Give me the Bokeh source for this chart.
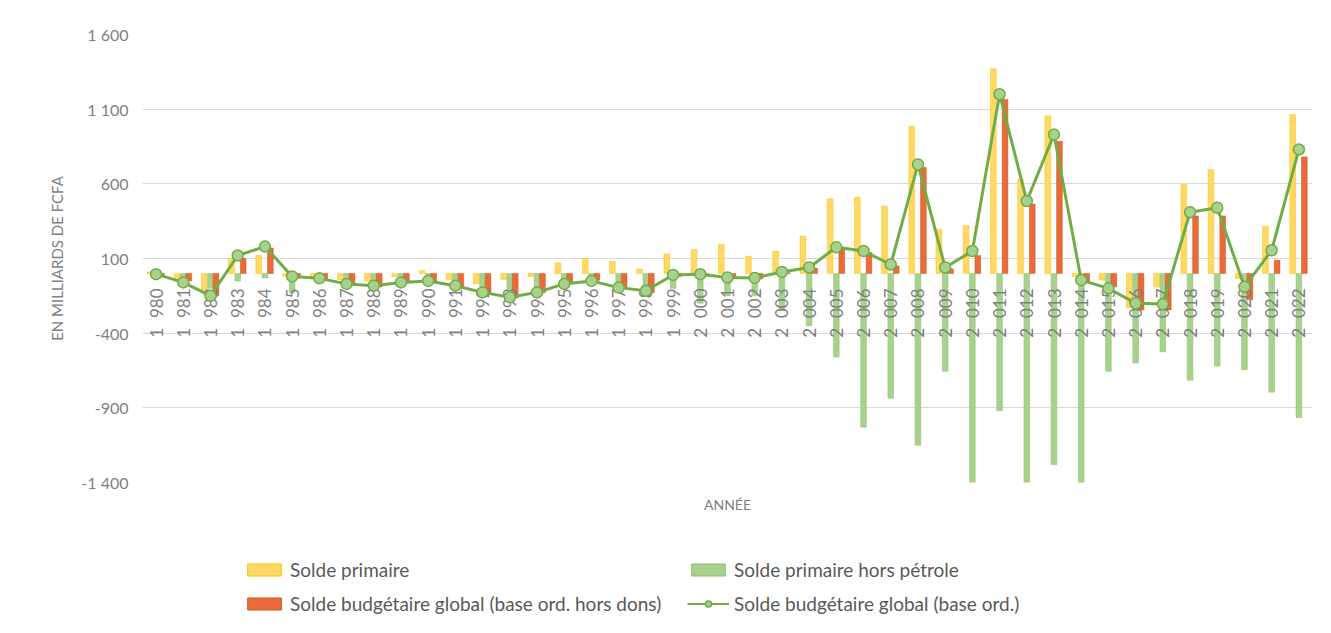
from bokeh.plotting import figure
from bokeh.models import ColumnDataSource, FixedTicker, Legend, LegendItem
from bokeh.layouts import column
from bokeh.core.properties import value
from bokeh.transform import dodge
from bokeh.embed import file_html
from bokeh.resources import INLINE
import math

years = list(range(1980, 2023))
year_labels = [f"{y // 1000}\u2007{y % 1000:03d}" for y in years]

solde_primaire = [10, -40, -110, 100, 120, -20, -20, -40, -50, -20, 20, -40, -70, -40, -20,
                  70, 100, 80, 30, 130, 160, 195, 115, 150, 250, 500, 510, 450, 985, 295,
                  320, 1370, 630, 1055, -20, -45, -230, -90, 595, 695, -35, 315, 1065]
solde_hors_petrole = [-20, -30, -100, -50, -30, -130, -40, -60, -60, -40, -30, -60, -100, -130, -130,
                      -80, -50, -90, -110, -100, -200, -150, -150, -250, -350, -560, -1030, -835, -1150, -655,
                      -1400, -920, -1400, -1280, -1400, -655, -600, -525, -715, -620, -645, -795, -965]
solde_hors_dons = [-10, -50, -150, 100, 170, -30, -35, -75, -90, -60, -50, -85, -130, -165, -130,
                   -60, -45, -100, -130, -20, -10, -30, -35, 5, 35, 165, 140, 50, 710, 30,
                   120, 1165, 465, 885, -60, -90, -245, -245, 385, 385, -175, 89, 780]
solde_global = [-5, -60, -150, 120, 180, -20, -33, -70, -82, -60, -50, -82, -127, -160, -127,
                -70, -50, -95, -116, -10, -5, -27, -30, 10, 40, 175, 150, 60, 730, 40,
                150, 1200, 485, 930, -45, -100, -200, -205, 410, 440, -90, 155, 830]

y_ticks = [1600, 1100, 600, 100, -400, -900, -1400]
y_tick_labels = ["1 600", "1 100", "600", "100", "-400", "-900", "-1 400"]

series_names = ["Solde primaire", "Solde primaire hors pétrole",
                "Solde budgétaire global (base ord. hors dons)",
                "Solde budgétaire global (base ord.)"]

src = ColumnDataSource(dict(
    x=years, lab=year_labels,
    sp=solde_primaire, shp=solde_hors_petrole, shd=solde_hors_dons, sg=solde_global,
    zero=[0] * len(years),
))

FONT = "Lato"
GRAY = "#7f7f7f"
C_YEL, E_YEL = "#FFD966", "#FFC000"
C_GRN, E_GRN = "#A9D18E", "#8CBF6E"
C_RED, E_RED = "#EB6A3C", "#C55A11"
C_LINE = "#70AD47"

p = figure(width=1315, height=520, output_backend="svg", toolbar_location=None,
           x_range=(1979.5, 2022.5), y_range=(-1400, 1600),
           min_border_left=142, min_border_right=3, min_border_top=34, min_border_bottom=38)
p.outline_line_color = None
p.background_fill_color = "white"
p.border_fill_color = "white"

w = 0.21
p.vbar(x=dodge("x", -0.23), top="sp", bottom=0, width=w, source=src, fill_color=C_YEL,
       line_color=E_YEL, line_width=0.5)
p.vbar(x=dodge("x", 0.0), top="shp", bottom=0, width=w, source=src, fill_color=C_GRN,
       line_color=E_GRN, line_width=0.5)
p.vbar(x=dodge("x", 0.2), top="shd", bottom=0, width=w, source=src, fill_color=C_RED,
       line_color=E_RED, line_width=0.5)

# year labels next to the zero line
p.text(x="x", y="zero", text="lab", source=src, angle=math.pi / 2, y_offset=15,
       text_align="right", text_baseline="middle", text_font=value(FONT),
       text_font_size="17px", text_color=GRAY)

p.line(x="x", y="sg", source=src, line_color=C_LINE, line_width=3)
p.scatter(x="x", y="sg", source=src, size=11, fill_color=C_GRN, line_color=C_LINE, line_width=1.5)

# axes
p.yaxis.ticker = FixedTicker(ticks=y_ticks)
p.yaxis.major_label_overrides = {t: l for t, l in zip(y_ticks, y_tick_labels)}
p.yaxis.axis_line_color = None
p.yaxis.major_tick_line_color = None
p.yaxis.minor_tick_line_color = None
p.yaxis.major_label_text_font = FONT
p.yaxis.major_label_text_font_size = "16px"
p.yaxis.major_label_text_color = GRAY
p.yaxis.major_label_standoff = 8
p.yaxis.axis_label = "EN MILLIARDS DE FCFA"
p.yaxis.axis_label_text_font = FONT
p.yaxis.axis_label_text_font_style = "normal"
p.yaxis.axis_label_text_font_size = "15px"
p.yaxis.axis_label_text_color = GRAY
p.yaxis.axis_label_standoff = 12

p.xaxis.ticker = FixedTicker(ticks=[])
p.xaxis.axis_line_color = None
p.xaxis.major_tick_line_color = None
p.xaxis.minor_tick_line_color = None
p.xaxis.axis_label = "ANNÉE"
p.xaxis.axis_label_text_font = FONT
p.xaxis.axis_label_text_font_style = "normal"
p.xaxis.axis_label_text_font_size = "14px"
p.xaxis.axis_label_text_color = GRAY
p.xaxis.axis_label_standoff = 13

p.xgrid.grid_line_color = None
p.ygrid.grid_line_color = "#d9d9d9"
p.ygrid.grid_line_width = 1

# legend panel (separate figure below the chart); its keys sit outside its ranges
lg = figure(width=1315, height=97, output_backend="svg", toolbar_location=None,
            x_range=(0, 1), y_range=(0, 1), min_border=0)
lg.axis.visible = False
lg.grid.visible = False
lg.outline_line_color = None
key = ColumnDataSource(dict(x=[-10], top=[-10]))
k1 = lg.vbar(x="x", top="top", width=0.1, source=key, fill_color=C_YEL, line_color=E_YEL)
k2 = lg.vbar(x="x", top="top", width=0.1, source=key, fill_color=C_GRN, line_color=E_GRN)
k3 = lg.vbar(x="x", top="top", width=0.1, source=key, fill_color=C_RED, line_color=E_RED)
k4 = lg.line(x="x", y="top", source=key, line_color=C_LINE, line_width=2)
k5 = lg.scatter(x="x", y="top", source=key, size=10, fill_color=C_GRN, line_color=C_LINE,
                line_width=1.5)


def make_legend(items, loc):
    L = Legend(items=items, location=loc)
    L.label_text_font = FONT
    L.label_text_font_size = "19px"
    L.label_text_color = "#595959"
    L.glyph_width = 42
    L.glyph_height = 15
    L.label_standoff = 5
    L.spacing = 11
    L.padding = 0
    L.margin = 0
    L.border_line_color = None
    L.background_fill_alpha = 0
    return L


leg_a = make_legend([LegendItem(label=series_names[0], renderers=[k1]),
                     LegendItem(label=series_names[2], renderers=[k3])], (101, 2))
leg_b = make_legend([LegendItem(label=series_names[1], renderers=[k2]),
                     LegendItem(label=series_names[3], renderers=[k4, k5])], (545, 2))
lg.add_layout(leg_a, "center")
lg.add_layout(leg_b, "center")

open("out.html", "w").write(file_html(column(p, lg, spacing=0), INLINE))
